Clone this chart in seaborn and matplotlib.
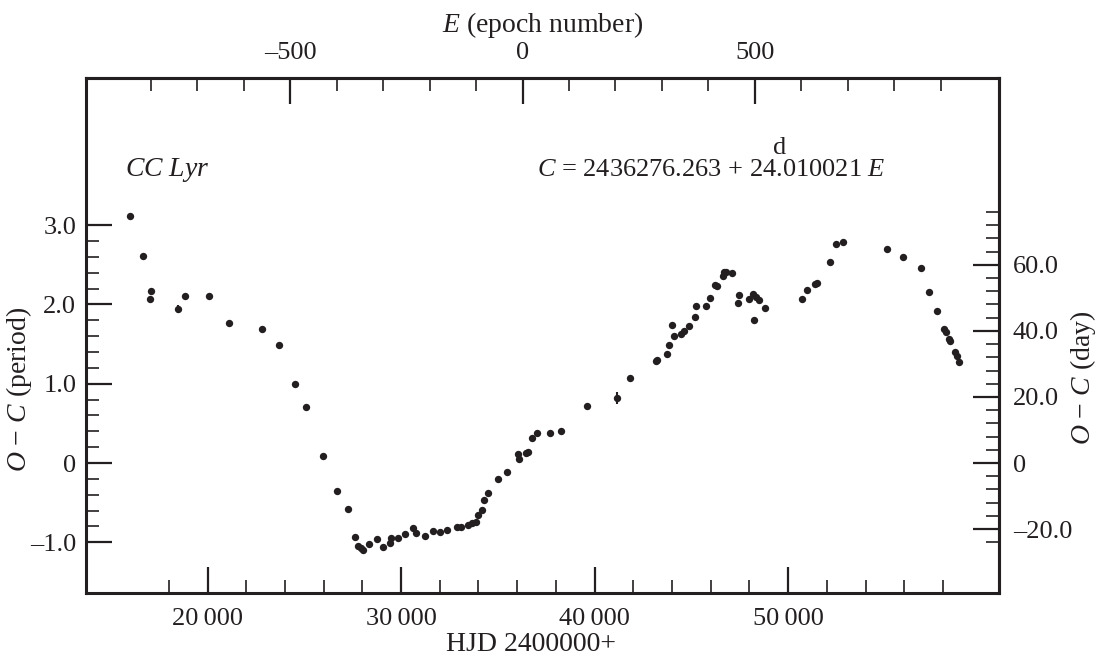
import numpy as np
import matplotlib
matplotlib.use("Agg")
import matplotlib.pyplot as plt
import seaborn as sns
from matplotlib.ticker import FixedLocator, FuncFormatter


# O-C data for CC Lyr (HJD - 2400000, O-C in periods)
hjd = [15983, 16655, 17017, 17100, 18497, 18843, 20084, 21119, 22790, 23705,
       24517, 25102, 25981, 26705, 27259, 27636, 27791, 27910, 28014, 28345,
       28738, 29048, 29447, 29462, 29824, 30186, 30621, 30755, 31257, 31655,
       32033, 32379, 32912, 33119, 33481, 33652, 33879, 33983, 34169, 34272,
       34516, 35017, 35483, 36052, 36104, 36445, 36584, 36776, 36998, 37671,
       38240, 39600, 41172, 41809, 43154, 43241, 43738, 43862, 44017, 44085,
       44483, 44638, 44861, 45187, 45239, 45740, 45947, 46242, 46325, 46619,
       46687, 46811, 47085, 47411, 47463, 47980, 48187, 48239, 48342, 48497,
       48828, 50690, 51000, 51378, 51481, 52154, 52464, 52810, 55102, 55930,
       56877, 57291, 57689, 58050, 58154, 58325, 58361, 58604, 58708, 58827]

oc = [3.115, 2.606, 2.068, 2.169, 1.942, 2.102, 2.106, 1.762, 1.686, 1.488,
      0.992, 0.706, 0.084, -0.357, -0.580, -0.929, -1.043, -1.068, -1.093, -1.018,
      -0.955, -1.063, -1.005, -0.946, -0.946, -0.899, -0.820, -0.879, -0.917, -0.858,
      -0.874, -0.849, -0.807, -0.807, -0.778, -0.760, -0.744, -0.652, -0.589, -0.470,
      -0.378, -0.206, -0.110, 0.113, 0.047, 0.130, 0.139, 0.311, 0.374, 0.378,
      0.407, 0.723, 0.820, 1.068, 1.282, 1.299, 1.378, 1.492, 1.736, 1.602,
      1.623, 1.661, 1.724, 1.841, 1.980, 1.984, 2.081, 2.248, 2.232, 2.358,
      2.405, 2.413, 2.400, 2.021, 2.119, 2.064, 2.127, 1.803, 2.097, 2.055,
      1.958, 2.064, 2.185, 2.253, 2.266, 2.531, 2.765, 2.787, 2.695, 2.602,
      2.459, 2.160, 1.921, 1.694, 1.652, 1.560, 1.542, 1.400, 1.349, 1.270]

# points with visible error bars
err_hjd = [18497, 41172]
err_oc = [1.942, 0.820]
err_size = [0.05, 0.075]

# ephemeris
T0 = 36276.263
PERIOD = 24.010021


sns.set_style("ticks")
plt.rcParams["font.family"] = ["Liberation Serif", "DejaVu Serif"]
plt.rcParams["mathtext.fontset"] = "custom"
plt.rcParams["mathtext.rm"] = "Liberation Serif"
plt.rcParams["mathtext.it"] = "Liberation Serif:italic"

INK = "#231f20"
FS = 19
LFS = 20

fig = plt.figure(figsize=(10.96, 6.58), dpi=100)
ax = fig.add_axes([0.0785, 0.0988, 0.833, 0.7834])

sns.scatterplot(x=hjd, y=oc, ax=ax, s=28, color=INK, linewidth=0, zorder=3)
ax.errorbar(err_hjd, err_oc, yerr=err_size, fmt="none", ecolor=INK,
            elinewidth=1.5, capsize=0, zorder=2)

ax.set_xlim(13722, 60895)
ax.set_ylim(-1.639, 4.861)

for sp in ax.spines.values():
    sp.set_linewidth(2.2)
    sp.set_color(INK)

minus = "\u2013"


def sep_fmt(v, pos):
    return f"{int(round(v)):,}".replace(",", "\u2009")


def per_fmt(v, pos):
    if abs(v) < 1e-9:
        return "0"
    s = f"{abs(v):.1f}"
    return (minus + s) if v < 0 else s


def int_fmt(v, pos):
    v = int(round(v))
    return (minus + str(-v)) if v < 0 else str(v)


# bottom axis
ax.xaxis.set_major_locator(FixedLocator([20000, 30000, 40000, 50000]))
ax.xaxis.set_minor_locator(FixedLocator(np.arange(18000, 58001, 2000)))
ax.xaxis.set_major_formatter(FuncFormatter(sep_fmt))

# left axis
ax.yaxis.set_major_locator(FixedLocator([-1, 0, 1, 2, 3]))
ax.yaxis.set_minor_locator(FixedLocator(np.arange(-1.0, 3.01, 0.2)))
ax.yaxis.set_major_formatter(FuncFormatter(per_fmt))

ax.tick_params(which="both", direction="in", top=False, right=False,
               labelsize=FS, colors=INK)
ax.tick_params(which="major", length=19, width=1.6)
ax.tick_params(which="minor", length=9.5, width=1.2)
ax.tick_params(axis="x", which="major", pad=11)
ax.tick_params(axis="y", which="major", pad=7)

ax.set_ylabel("$O$ \u2212 $C$ (period)", fontsize=LFS, color=INK)
ax.yaxis.set_label_coords(-0.057, 0.395)

# top axis: epoch number
top = ax.secondary_xaxis("top", functions=(lambda x: (x - T0) / PERIOD,
                                            lambda e: e * PERIOD + T0))
top.xaxis.set_major_locator(FixedLocator([-500, 0, 500]))
top.xaxis.set_minor_locator(FixedLocator(np.arange(-800, 901, 100)))
top.xaxis.set_major_formatter(FuncFormatter(int_fmt))
top.tick_params(which="both", direction="in", labelsize=FS, colors=INK)
top.tick_params(which="major", length=19, width=1.6, pad=10)
top.tick_params(which="minor", length=9.5, width=1.2)
top.spines["top"].set_linewidth(2.2)
top.set_xlabel("$E$ (epoch number)", fontsize=LFS, color=INK, labelpad=7)

# right axis: O-C in days
right = ax.secondary_yaxis("right", functions=(lambda p: p * PERIOD,
                                                lambda d: d / PERIOD))
right.yaxis.set_major_locator(FixedLocator([-20, 0, 20, 40, 60]))
right.yaxis.set_minor_locator(FixedLocator(np.arange(-24, 77, 4)))
right.yaxis.set_major_formatter(FuncFormatter(per_fmt))
right.tick_params(which="both", direction="in", labelsize=FS, colors=INK)
right.tick_params(which="major", length=19, width=1.6, pad=10)
right.tick_params(which="minor", length=9.5, width=1.2)
right.spines["right"].set_linewidth(2.2)

# outer axis labels placed in figure pixels
W, H = 1096, 658
fig.text(531 / W, 1 - 651 / H, "HJD 2400000+", fontsize=LFS, color=INK,
         ha="center", va="baseline")
fig.text(1083 / W, 1 - 378 / H, "$O$ \u2212 $C$ (day)", fontsize=LFS,
         color=INK, ha="center", va="center", rotation=90)

# annotations
ax.text(15740, 3.695, "$CC$ $Lyr$", fontsize=LFS, color=INK, va="center")
eq = ax.text(37000, 3.69, "$C$ = 2436276.263 + 24.010021 $E$", fontsize=FS,
             color=INK, va="center")

# put the "d" right above the decimal point of the period
renderer = fig.canvas.get_renderer()
eq_box = eq.get_window_extent(renderer)
probe = ax.text(37000, 3.69, "$C$ = 2436276.263 + 24", fontsize=FS, va="center")
probe_box = probe.get_window_extent(renderer)
probe.remove()
dot_x = probe_box.x1 + 2.5
fig.text(dot_x / W, eq_box.y1 / H, "d", fontsize=FS, color=INK,
         ha="center", va="bottom")

fig.savefig("out.png", dpi=100)
